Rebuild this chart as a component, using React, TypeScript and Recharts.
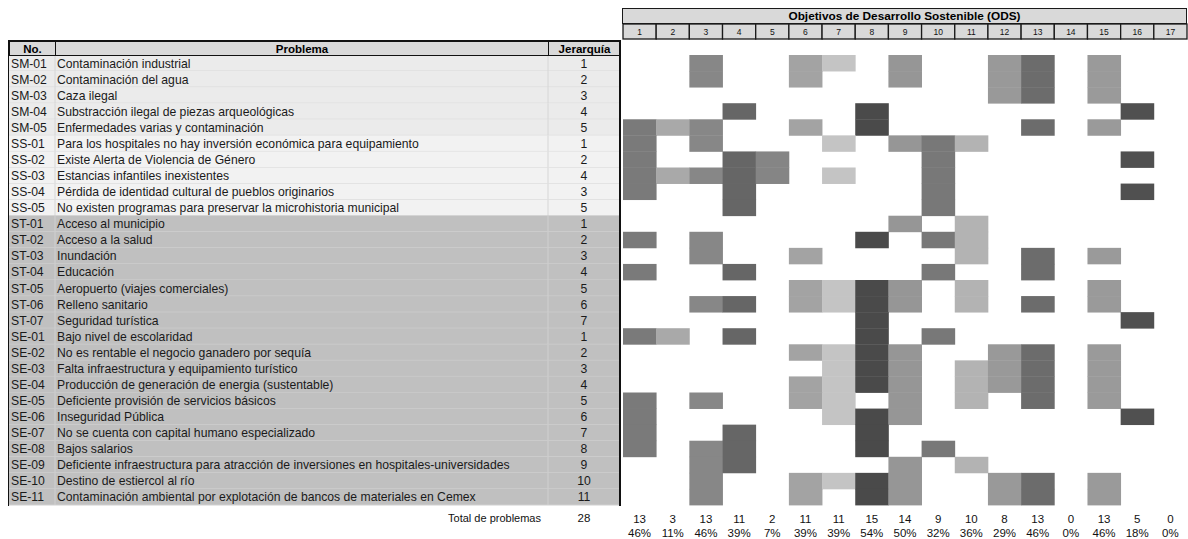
import React from 'react';
import { ScatterChart, Scatter, XAxis, YAxis } from 'recharts';

const rowIds = [
    'SM-01', 'SM-02', 'SM-03', 'SM-04', 'SM-05',
    'SS-01', 'SS-02', 'SS-03', 'SS-04', 'SS-05',
    'ST-01', 'ST-02', 'ST-03', 'ST-04', 'ST-05', 'ST-06', 'ST-07',
    'SE-01', 'SE-02', 'SE-03', 'SE-04', 'SE-05', 'SE-06', 'SE-07', 'SE-08', 'SE-09', 'SE-10', 'SE-11',
];

const problems = [
    'Contaminación industrial',
    'Contaminación del agua',
    'Caza ilegal',
    'Substracción ilegal de piezas arqueológicas',
    'Enfermedades varias y contaminación',
    'Para los hospitales no hay inversión económica para equipamiento',
    'Existe Alerta de Violencia de Género',
    'Estancias infantiles inexistentes',
    'Pérdida de identidad cultural de pueblos originarios',
    'No existen programas para preservar la microhistoria municipal',
    'Acceso al municipio',
    'Acceso a la salud',
    'Inundación',
    'Educación',
    'Aeropuerto (viajes comerciales)',
    'Relleno sanitario',
    'Seguridad turística',
    'Bajo nivel de escolaridad',
    'No es rentable el negocio ganadero por sequía',
    'Falta infraestructura y equipamiento turístico',
    'Producción de generación de energia (sustentable)',
    'Deficiente provisión de servicios básicos',
    'Inseguridad Pública',
    'No se cuenta con capital humano especializado',
    'Bajos salarios',
    'Deficiente infraestructura para atracción de inversiones en hospitales-universidades',
    'Destino de estiercol al río',
    'Contaminación ambiental por explotación de bancos de materiales en Cemex',
];

const ranks = [1, 2, 3, 4, 5, 1, 2, 4, 3, 5, 1, 2, 3, 4, 5, 6, 7, 1, 2, 3, 4, 5, 6, 7, 8, 9, 10, 11];

const odsNumbers = [1, 2, 3, 4, 5, 6, 7, 8, 9, 10, 11, 12, 13, 14, 15, 16, 17];
const odsShades = [
    '#7a7a7a', '#a9a9a9', '#878787', '#666666', '#858585', '#a3a3a3', '#c4c4c4', '#4a4a4a', '#969696',
    '#787878', '#b3b3b3', '#999999', '#6c6c6c', '#888888', '#9a9a9a', '#505050', '#888888',
];
const odsTotals = [13, 3, 13, 11, 2, 11, 11, 15, 14, 9, 10, 8, 13, 0, 13, 5, 0];
const odsPercents = ['46%', '11%', '46%', '39%', '7%', '39%', '39%', '54%', '50%', '32%', '36%', '29%', '46%', '0%', '46%', '18%', '0%'];
const totalProblems = 28;

// ODS marked for each problem, same order as rowIds
const rowOds = [
    [3, 6, 7, 9, 12, 13, 15],
    [3, 6, 9, 12, 13, 15],
    [12, 13, 15],
    [4, 8, 16],
    [1, 2, 3, 6, 8, 13, 15],
    [1, 3, 7, 9, 10, 11],
    [1, 4, 5, 10, 16],
    [1, 2, 3, 4, 5, 7, 10],
    [1, 4, 10, 16],
    [4, 10],
    [9, 11],
    [1, 3, 8, 10, 11],
    [3, 6, 11, 13, 15],
    [1, 4, 10, 13],
    [6, 7, 8, 9, 11, 15],
    [3, 4, 6, 7, 8, 9, 11, 13, 15],
    [8, 16],
    [1, 2, 4, 8, 10],
    [6, 7, 8, 9, 12, 13, 15],
    [7, 8, 9, 11, 12, 13, 15],
    [6, 7, 8, 9, 11, 12, 13, 15],
    [1, 3, 6, 7, 9, 11, 13, 15],
    [1, 7, 8, 9, 16],
    [1, 4, 8],
    [1, 3, 4, 8, 10],
    [3, 4, 9, 11],
    [3, 6, 7, 8, 9, 12, 13, 15],
    [3, 6, 8, 9, 12, 13, 15],
];

const FONT = "'Liberation Sans', Arial, sans-serif";
const PLOT_LEFT = 623;
const PLOT_RIGHT = 1187;
const PLOT_TOP = 55;
const PLOT_BOTTOM = 505;
const CELL_W = (PLOT_RIGHT - PLOT_LEFT) / odsNumbers.length;
const CELL_H = (PLOT_BOTTOM - PLOT_TOP) / rowIds.length;

const cells = rowOds.flatMap((list, r) =>
    list.map(ods => ({ ods, row: r + 0.5, fill: odsShades[ods - 1] }))
);
// only used so the bottom axis (totals) gets drawn
const totalsAnchor = odsNumbers.map(ods => ({ ods, row: 0.5 }));

function RowTick({ y, payload }: any) {
    const i = Math.floor(payload.value);
    const band = i < 5 ? '#ebebeb' : i < 10 ? '#f2f2f2' : '#c0c0c0';
    const line = i < 10 ? '#d6d6d6' : '#d0d0d0';
    const top = y - CELL_H / 2;
    return (
        <g>
            <rect x={9} y={top} width={611} height={CELL_H} fill={band} />
            <line x1={9} x2={620} y1={top + CELL_H} y2={top + CELL_H} stroke={line} />
            <line x1={55} x2={55} y1={top} y2={top + CELL_H} stroke={line} />
            <line x1={548} x2={548} y1={top} y2={top + CELL_H} stroke={line} />
            <text x={11} y={y + 4.5} fontSize={12.2} fill="#1a1a1a" fontFamily={FONT}>{rowIds[i]}</text>
            <text x={57} y={y + 4.5} fontSize={12.2} fill="#1a1a1a" fontFamily={FONT}>{problems[i]}</text>
            <text x={584} y={y + 4.5} fontSize={12.2} fill="#1a1a1a" fontFamily={FONT} textAnchor="middle">{ranks[i]}</text>
        </g>
    );
}

function OdsTick({ x, payload }: any) {
    return (
        <g>
            <rect x={x - CELL_W / 2} y={24} width={CELL_W} height={15} fill="#d9d9d9" stroke="#1a1a1a" strokeWidth={1.3} />
            <text x={x} y={35} fontSize={8.5} fill="#111" fontFamily={FONT} textAnchor="middle">{payload.value}</text>
        </g>
    );
}

function TotalTick({ x, payload }: any) {
    const i = payload.value - 1;
    return (
        <g>
            <text x={x} y={523} fontSize={11.5} fill="#111" fontFamily={FONT} textAnchor="middle">{odsTotals[i]}</text>
            <text x={x} y={537} fontSize={11.5} fill="#111" fontFamily={FONT} textAnchor="middle">{odsPercents[i]}</text>
        </g>
    );
}

function Cell(props: any) {
    const { cx, cy, payload } = props;
    return (
        <rect x={cx - CELL_W / 2} y={cy - CELL_H / 2} width={CELL_W + 0.4} height={CELL_H + 0.4} fill={payload.fill} />
    );
}

const headCell: React.CSSProperties = {
    position: 'absolute', top: 0, height: 14, lineHeight: '14px', textAlign: 'center',
    fontWeight: 'bold', fontSize: 11.5, borderRight: '1px solid #111', boxSizing: 'border-box',
};

export default function App() {
    return (
        <div style={{ position: 'absolute', left: 0, top: 0, width: 1188, height: 539, background: '#fff', fontFamily: FONT, overflow: 'hidden' }}>
            <ScatterChart width={1188} height={539} margin={{ top: 0, right: 1, bottom: 0, left: 0 }}>
                <XAxis xAxisId="top" orientation="top" type="number" dataKey="ods" domain={[0.5, 17.5]}
                    ticks={odsNumbers} interval={0} height={55} axisLine={false} tickLine={false} tick={<OdsTick />} />
                <XAxis xAxisId="bottom" orientation="bottom" type="number" dataKey="ods" domain={[0.5, 17.5]}
                    ticks={odsNumbers} interval={0} height={34} axisLine={false} tickLine={false} tick={<TotalTick />} />
                <YAxis type="number" dataKey="row" domain={[0, rowIds.length]} reversed width={623}
                    ticks={rowIds.map((_, i) => i + 0.5)} interval={0} axisLine={false} tickLine={false} tick={<RowTick />} />
                <Scatter xAxisId="bottom" data={totalsAnchor} shape={<g />} isAnimationActive={false} />
                <Scatter xAxisId="top" data={cells} shape={<Cell />} isAnimationActive={false} />
            </ScatterChart>

            <div style={{ position: 'absolute', left: 622, top: 8, width: 565, height: 16, boxSizing: 'border-box', border: '1.3px solid #1a1a1a', background: '#d9d9d9', textAlign: 'center', fontWeight: 'bold', fontSize: 11.8, lineHeight: '14px' }}>
                Objetivos de Desarrollo Sostenible (ODS)
            </div>

            <div style={{ position: 'absolute', left: 9, top: 40, width: 612, height: 16, boxSizing: 'border-box', border: '1px solid #111', borderTopWidth: 2, background: '#d9d9d9' }}>
                <div style={{ ...headCell, left: 0, width: 46 }}>No.</div>
                <div style={{ ...headCell, left: 46, width: 493 }}>Problema</div>
                <div style={{ ...headCell, left: 539, width: 71, borderRight: 'none' }}>Jerarquía</div>
            </div>
            <div style={{ position: 'absolute', left: 8, top: 40, width: 1, height: 466, background: '#111' }} />
            <div style={{ position: 'absolute', left: 619, top: 40, width: 2, height: 466, background: '#111' }} />

            <div style={{ position: 'absolute', left: 380, top: 512, width: 161, textAlign: 'right', fontSize: 11, color: '#111' }}>Total de problemas</div>
            <div style={{ position: 'absolute', left: 564, top: 512, width: 40, textAlign: 'center', fontSize: 11.5, color: '#111' }}>{totalProblems}</div>
        </div>
    );
}
